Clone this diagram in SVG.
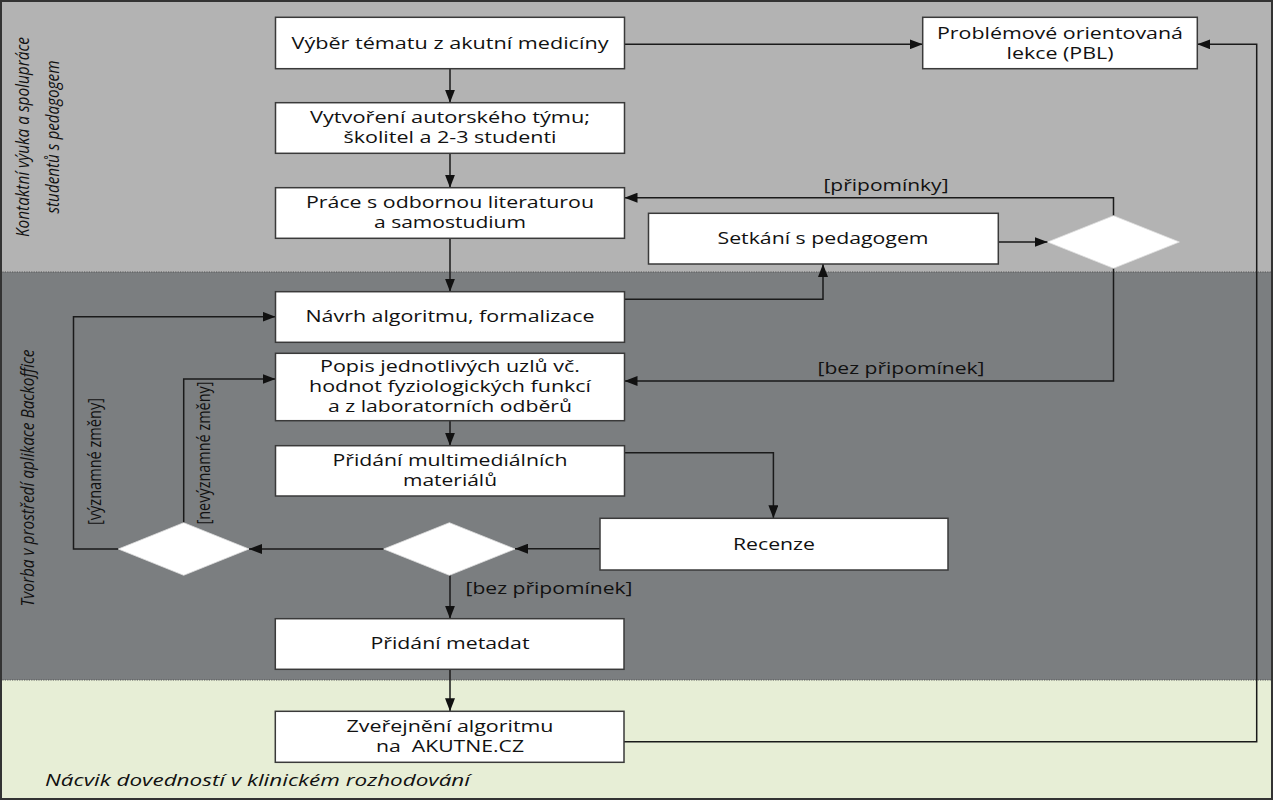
<svg xmlns="http://www.w3.org/2000/svg" width="1273" height="800" viewBox="0 0 1273 800">
<style>
.box{fill:#ffffff;stroke:#3a3a3a;stroke-width:1.5}
.dia{fill:#ffffff;stroke:#e0e0e0;stroke-width:0.8}
.t{font-family:"Open Sans","DejaVu Sans",sans-serif;font-size:16px;fill:#111;text-anchor:middle}
.lbl{font-family:"Open Sans","DejaVu Sans",sans-serif;font-size:15.5px;fill:#111;text-anchor:middle}
.rl{font-family:"Open Sans","DejaVu Sans",sans-serif;font-size:14.5px;fill:#111;text-anchor:middle}
.side{font-family:"Open Sans","DejaVu Sans",sans-serif;font-size:14px;font-style:italic;fill:#111;text-anchor:middle}
.c{fill:none;stroke:#1a1a1a;stroke-width:1.5}
.sep{stroke:#555;stroke-width:1.2;stroke-dasharray:1.2 1.2}
</style>
<defs>
<marker id="ah" markerUnits="userSpaceOnUse" markerWidth="14" markerHeight="10" refX="13" refY="5" orient="auto">
<path d="M0,0 L13,5 L0,10 z" fill="#111"/>
</marker>
</defs>
<g id="bands">
<rect x="0" y="0" width="1273" height="272" fill="#b3b3b3"/>
<rect x="0" y="272" width="1273" height="408" fill="#7b7e80"/>
<rect x="0" y="680" width="1273" height="120" fill="#e7eed6"/>
<line class="sep" x1="0" y1="272" x2="1273" y2="272"/>
<line class="sep" x1="0" y1="680" x2="1273" y2="680"/>
<rect x="1" y="1" width="1271" height="798" fill="none" stroke="#333" stroke-width="2"/>
</g>
<g id="lane-labels">
<text class="side" transform="translate(29,137) rotate(-90) scale(1,1.3)" textLength="200" lengthAdjust="spacingAndGlyphs">Kontaktní výuka a spolupráce</text>
<text class="side" transform="translate(59,137) rotate(-90) scale(1,1.3)" textLength="153" lengthAdjust="spacingAndGlyphs">studentů s pedagogem</text>
<text class="side" transform="translate(34,478) rotate(-90) scale(1,1.3)" textLength="257" lengthAdjust="spacingAndGlyphs">Tvorba v prostředí aplikace Backoffice</text>
<text class="side" style="text-anchor:start;font-size:16.5px" x="45" y="786" textLength="425" lengthAdjust="spacingAndGlyphs">Nácvik dovedností v klinickém rozhodování</text>
</g>
<g id="connectors">
<path class="c" d="M450,68.7 V102.7" marker-end="url(#ah)"/>
<path class="c" d="M450,153.3 V187.7" marker-end="url(#ah)"/>
<path class="c" d="M450,238.3 V291.7" marker-end="url(#ah)"/>
<path class="c" d="M624.5,44.3 H922.7" marker-end="url(#ah)"/>
<path class="c" d="M624.5,299.3 H823 V264" marker-end="url(#ah)"/>
<path class="c" d="M998.3,242 H1047.6" marker-end="url(#ah)"/>
<path class="c" d="M1113.5,215.7 V197.7 H624.5" marker-end="url(#ah)"/>
<path class="c" d="M1113.5,268.3 V381 H624.5" marker-end="url(#ah)"/>
<path class="c" d="M450,420.7 V445.7" marker-end="url(#ah)"/>
<path class="c" d="M624.5,452.7 H773.4 V518.3" marker-end="url(#ah)"/>
<path class="c" d="M600,548.7 H515" marker-end="url(#ah)"/>
<path class="c" d="M383.7,549 H249" marker-end="url(#ah)"/>
<path class="c" d="M118.4,549 H73.5 V316.7 H275.5" marker-end="url(#ah)"/>
<path class="c" d="M183.7,522.7 V379 H275.5" marker-end="url(#ah)"/>
<path class="c" d="M450,575.3 V618.7" marker-end="url(#ah)"/>
<path class="c" d="M450,669.3 V711.3" marker-end="url(#ah)"/>
<path class="c" d="M624,741.7 H1256.7 V44.3 H1197.3" marker-end="url(#ah)"/>
<text class="lbl" x="886" y="191" textLength="125" lengthAdjust="spacingAndGlyphs">[připomínky]</text>
<text class="lbl" x="901" y="374" textLength="167" lengthAdjust="spacingAndGlyphs">[bez připomínek]</text>
<text class="lbl" x="549" y="594" textLength="167" lengthAdjust="spacingAndGlyphs">[bez připomínek]</text>
<text class="rl" transform="translate(101,461.5) rotate(-90) scale(1,1.3)" textLength="127" lengthAdjust="spacingAndGlyphs">[významné změny]</text>
<text class="rl" transform="translate(210,453) rotate(-90) scale(1,1.3)" textLength="143" lengthAdjust="spacingAndGlyphs">[nevýznamné změny]</text>
</g>
<g id="n-vyber">
<rect class="box" x="275.5" y="17.3" width="349" height="51.4"/>
<text class="t" x="450" y="49" textLength="317" lengthAdjust="spacingAndGlyphs">Výběr tématu z akutní medicíny</text>
</g>
<g id="n-pbl">
<rect class="box" x="922.7" y="17.3" width="274.6" height="51.4"/>
<text class="t" x="1060" y="39" textLength="246" lengthAdjust="spacingAndGlyphs">Problémové orientovaná</text>
<text class="t" x="1060" y="59" textLength="107" lengthAdjust="spacingAndGlyphs">lekce (PBL)</text>
</g>
<g id="n-tym">
<rect class="box" x="275.5" y="102.7" width="349" height="50.6"/>
<text class="t" x="450" y="123.3" textLength="280" lengthAdjust="spacingAndGlyphs">Vytvoření autorského týmu;</text>
<text class="t" x="450" y="143.3" textLength="213" lengthAdjust="spacingAndGlyphs">školitel a 2-3 studenti</text>
</g>
<g id="n-prace">
<rect class="box" x="275.5" y="187.7" width="349" height="50.6"/>
<text class="t" x="450" y="208.3" textLength="288" lengthAdjust="spacingAndGlyphs">Práce s odbornou literaturou</text>
<text class="t" x="450" y="228.3" textLength="152" lengthAdjust="spacingAndGlyphs">a samostudium</text>
</g>
<g id="n-setkani">
<rect class="box" x="648.5" y="213.3" width="349.8" height="50.7"/>
<text class="t" x="823" y="244.3" textLength="211" lengthAdjust="spacingAndGlyphs">Setkání s pedagogem</text>
</g>
<g id="n-dec1">
<polygon class="dia" points="1113.5,215.7 1179.4,242 1113.5,268.3 1047.6,242"/>
</g>
<g id="n-navrh">
<rect class="box" x="275.5" y="291.7" width="349" height="50.6"/>
<text class="t" x="450" y="322.3" textLength="289" lengthAdjust="spacingAndGlyphs">Návrh algoritmu, formalizace</text>
</g>
<g id="n-popis">
<rect class="box" x="275.5" y="353.3" width="349" height="67.4"/>
<text class="t" x="450" y="372.3" textLength="260" lengthAdjust="spacingAndGlyphs">Popis jednotlivých uzlů vč.</text>
<text class="t" x="450" y="392.3" textLength="282" lengthAdjust="spacingAndGlyphs">hodnot fyziologických funkcí</text>
<text class="t" x="450" y="412.3" textLength="244" lengthAdjust="spacingAndGlyphs">a z laboratorních odběrů</text>
</g>
<g id="n-multimedia">
<rect class="box" x="275.5" y="445.7" width="349" height="50.3"/>
<text class="t" x="450" y="465.7" textLength="235" lengthAdjust="spacingAndGlyphs">Přidání multimediálních</text>
<text class="t" x="450" y="485.7" textLength="94" lengthAdjust="spacingAndGlyphs">materiálů</text>
</g>
<g id="n-recenze">
<rect class="box" x="600" y="518.3" width="348" height="51.7"/>
<text class="t" x="774" y="550" textLength="82" lengthAdjust="spacingAndGlyphs">Recenze</text>
</g>
<g id="n-dec2">
<polygon class="dia" points="449.4,522.7 515,549 449.4,575.3 383.7,549"/>
</g>
<g id="n-dec3">
<polygon class="dia" points="183.7,522.7 249,549 183.7,575.3 118.4,549"/>
</g>
<g id="n-metadata">
<rect class="box" x="275.3" y="618.7" width="348.7" height="50.6"/>
<text class="t" x="450" y="649.3" textLength="159" lengthAdjust="spacingAndGlyphs">Přidání metadat</text>
</g>
<g id="n-zverejneni">
<rect class="box" x="275.3" y="711.3" width="348.7" height="51"/>
<text class="t" x="450" y="731.7" textLength="207" lengthAdjust="spacingAndGlyphs">Zveřejnění algoritmu</text>
<text class="t" x="450" y="751.7" textLength="148" lengthAdjust="spacingAndGlyphs" xml:space="preserve">na  AKUTNE.CZ</text>
</g>
</svg>
